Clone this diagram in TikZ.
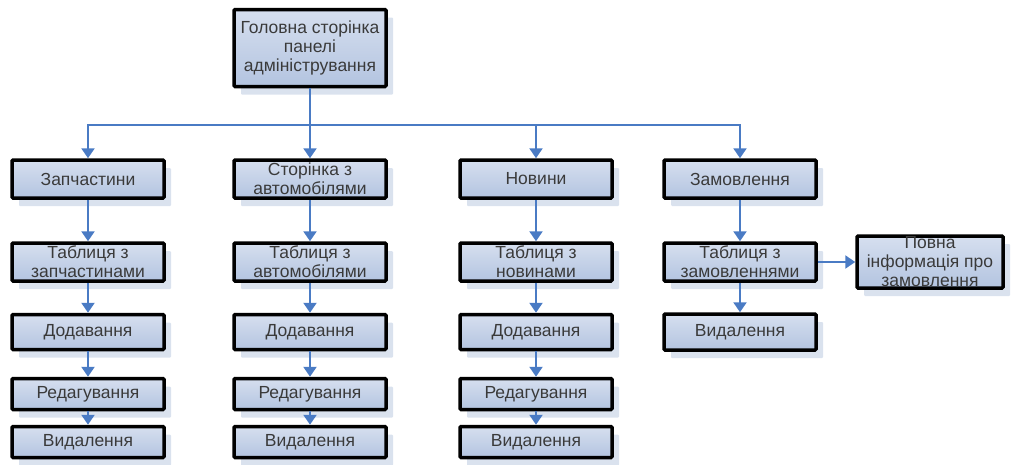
\documentclass[tikz,border=0pt]{standalone}
\usepackage{fontspec}
\setmainfont{Liberation Sans}
\usetikzlibrary{arrows.meta,shadows}
\definecolor{boxtop}{HTML}{D6DFEF}
\definecolor{boxbot}{HTML}{B3C4E0}
\definecolor{boxshade}{HTML}{DAE2EE}
\definecolor{linkblue}{HTML}{4A7BC4}
\definecolor{boxtext}{HTML}{3A3A3A}

\begin{document}
\begin{tikzpicture} [x=1pt,y=-1pt,
  page/.style= {draw=black,line width=3.5pt,rounded corners=1pt,top color=boxtop,bottom color=boxbot,general shadow={fill=boxshade,shadow xshift=7pt,shadow yshift=-8pt},minimum width=152pt,minimum height=38pt,inner sep=0pt,align=center,text=boxtext,font=\fontsize{17.5}{19}\selectfont},
  link/.style= {draw=linkblue,line width=2.2pt,-{Triangle[width=13pt,length=10pt]}}]
  \useasboundingbox (0,0) rectangle (1013,464);
  % Top
  {\node[page][minimum height=77pt] (main) at (310,48) {Головна сторінка\\панелі\\адміністрування};}
  % Row 1
  {\node[page] (parts) at (88,179) {Запчастини};}
  {\node[page] (cars) at (310,179) {Сторінка з\\автомобілями};}
  {\node[page] (news) at (536,179) {Новини};}
  {\node[page] (orders) at (740,179) {Замовлення};}
  % Row 2
  {\node[page] (partstab) at (88,262) {Таблиця з\\запчастинами};}
  {\node[page] (carstab) at (310,262) {Таблиця з\\автомобілями};}
  {\node[page] (newstab) at (536,262) {Таблиця з\\новинами};}
  {\node[page] (orderstab) at (740,262) {Таблиця з\\замовленнями};}
  {\node[page][minimum width=146pt,minimum height=52pt] (orderinfo) at (930,262) {Повна\\інформація про\\замовлення};}
  % Row 3
  {\node[page][minimum height=35pt] (partsadd) at (88,332) {Додавання};}
  {\node[page][minimum height=35pt] (carsadd) at (310,332) {Додавання};}
  {\node[page][minimum height=35pt] (newsadd) at (536,332) {Додавання};}
  {\node[page][minimum height=36pt] (ordersdel) at (740,332) {Видалення};}
  % Row 4
  {\node[page][minimum height=31pt] (partsedit) at (88,394) {Редагування};}
  {\node[page][minimum height=31pt] (carsedit) at (310,394) {Редагування};}
  {\node[page][minimum height=31pt] (newsedit) at (536,394) {Редагування};}
  % Row 5
  {\node[page][minimum height=31pt] (partsdel) at (88,442) {Видалення};}
  {\node[page][minimum height=31pt] (carsdel) at (310,442) {Видалення};}
  {\node[page][minimum height=31pt] (newsdel) at (536,442) {Видалення};}
  % Links
  \coordinate (bus) at (310,125);
  \draw[link] (main) -- (cars);
  \draw[link] (bus) -| (parts);
  \draw[link] (bus) -| (news);
  \draw[link] (bus) -| (orders);
  \draw[link] (parts) -- (partstab);
  \draw[link] (cars) -- (carstab);
  \draw[link] (news) -- (newstab);
  \draw[link] (orders) -- (orderstab);
  \draw[link] (orderstab) -- (orderinfo);
  \draw[link] (partstab) -- (partsadd);
  \draw[link] (carstab) -- (carsadd);
  \draw[link] (newstab) -- (newsadd);
  \draw[link] (orderstab) -- (ordersdel);
  \draw[link] (partsadd) -- (partsedit);
  \draw[link] (carsadd) -- (carsedit);
  \draw[link] (newsadd) -- (newsedit);
  \draw[link] (partsedit) -- (partsdel);
  \draw[link] (carsedit) -- (carsdel);
  \draw[link] (newsedit) -- (newsdel);
\end{tikzpicture}
\end{document}
